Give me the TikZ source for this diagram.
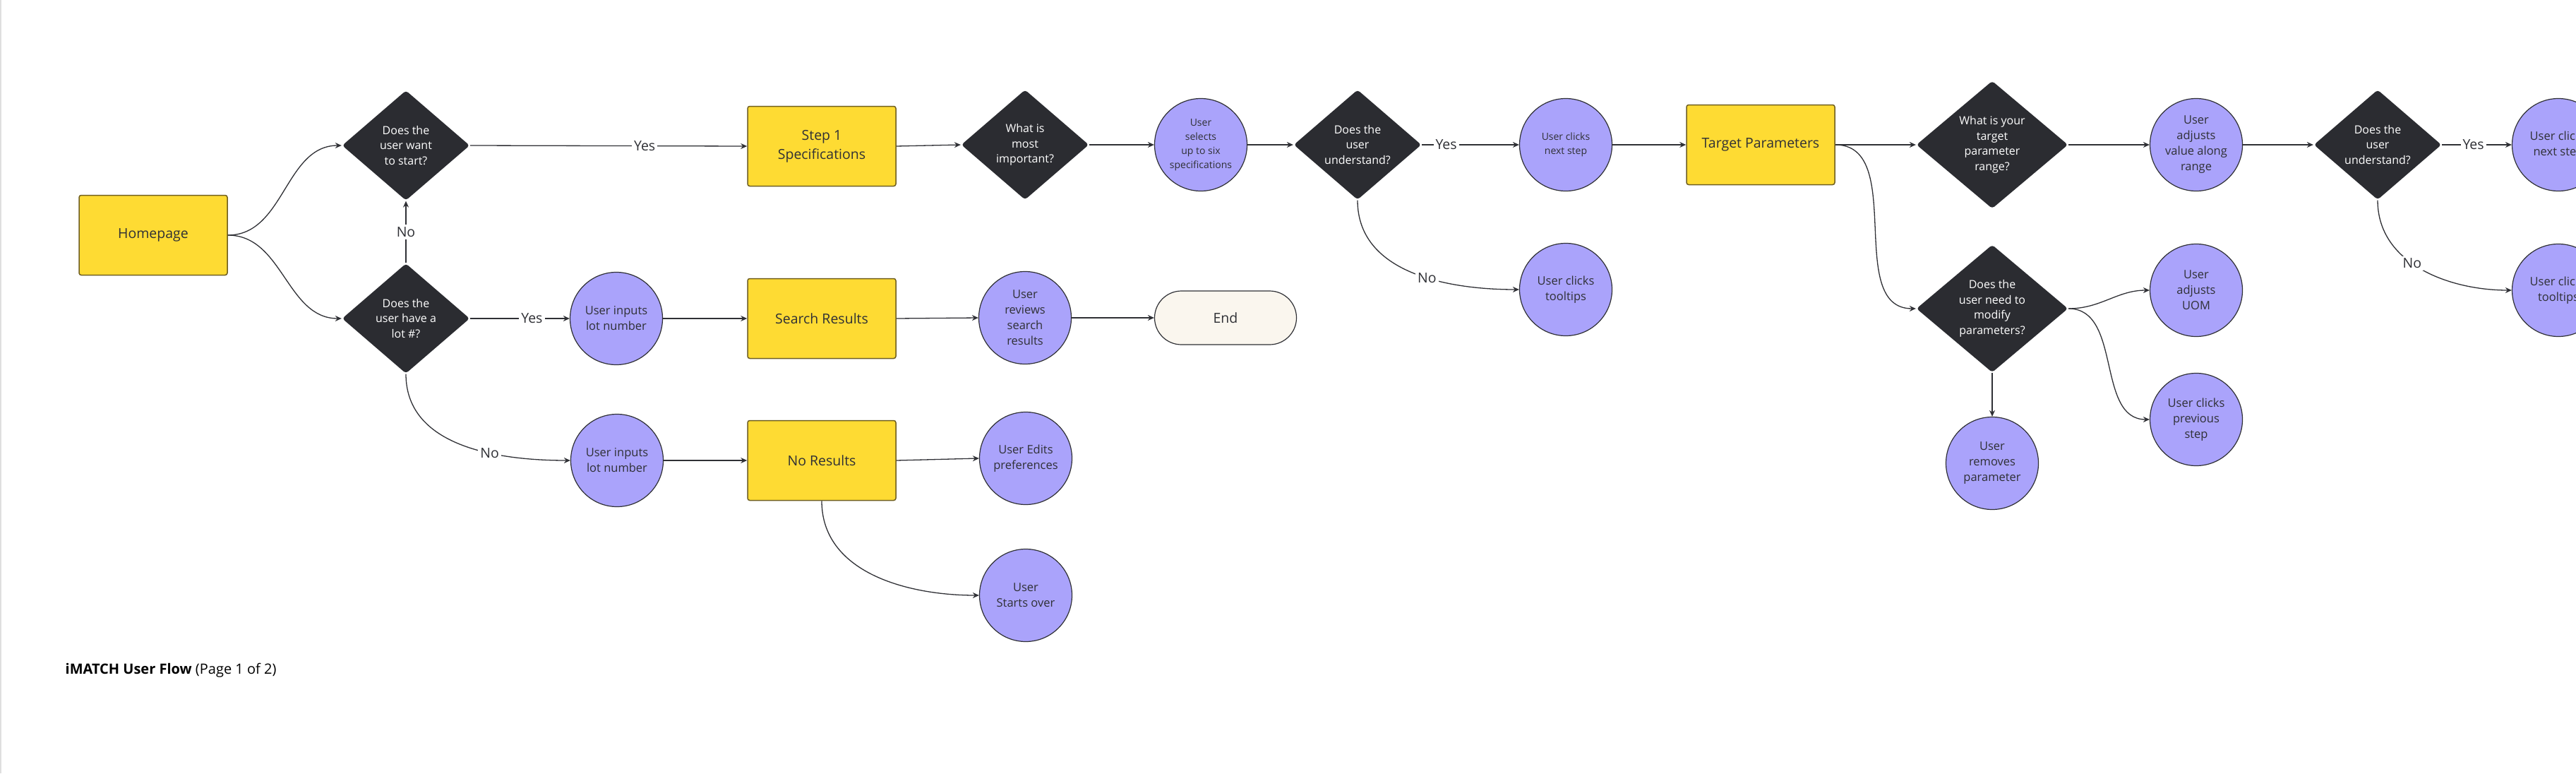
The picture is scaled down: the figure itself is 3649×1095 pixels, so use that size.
\documentclass[tikz,border=0pt]{standalone}
\usepackage{fontspec}
\setmainfont{Open Sans}
\usetikzlibrary{arrows.meta,shapes.geometric}
\definecolor{notey}{HTML}{FEDB33}
\definecolor{noteline}{HTML}{6E5E20}
\definecolor{askdark}{HTML}{2B2C31}
\definecolor{actpurple}{HTML}{AAA3FB}
\definecolor{ink}{HTML}{2F3035}
\definecolor{endcream}{HTML}{FAF6EE}

\begin{document}
\begin{tikzpicture}[x=1pt,y=-1pt,line width=1.3pt,
  box/.style={rectangle,rounded corners=3pt,draw=noteline,line width=1.5pt,fill=notey,minimum width=210pt,minimum height=113pt,inner sep=0pt,align=center,text=ink,font=\fontsize{19.5}{27}\selectfont},
  ask/.style={diamond,rounded corners=4pt,fill=askdark,minimum width=181pt,minimum height=156pt,inner sep=0pt,align=center,text=white,font=\fontsize{16}{21.5}\selectfont},
  bigask/.style={ask,minimum width=215pt,minimum height=181pt},
  act/.style={circle,draw=ink,line width=1.2pt,fill=actpurple,minimum size=131pt,inner sep=0pt,align=center,text=ink,font=\fontsize{16.5}{22}\selectfont},
  smallact/.style={act,font=\fontsize{14}{20}\selectfont},
  stop/.style={rectangle,rounded corners=38pt,draw=ink,line width=1.2pt,fill=endcream,minimum width=201pt,minimum height=76pt,text=ink,font=\fontsize{19.5}{24}\selectfont},
  lbl/.style={fill=white,inner sep=3pt,text=ink,font=\fontsize{19.5}{24}\selectfont},
  flow/.style={draw=ink,line width=1.3pt,-{Stealth[length=9pt,width=8pt]}}]
\clip (0,0) rectangle (3649,1095);
\draw[gray!25,line width=1.5pt] (0.75,0) -- (0.75,1095);

% start
\node[box] (home) at (217,333) {Homepage};
\node[ask] (qstart) at (575,206) {Does the\\user want\\to start?};
\node[ask] (qlot) at (575,451) {Does the\\user have a\\lot \#?};

% lot number branch
\node[act] (inputa) at (873,451) {User inputs\\lot number};
\node[act] (inputb) at (874,652) {User inputs\\lot number};
\node[box] (search) at (1164,451) {Search Results};
\node[box] (noresult) at (1164,652) {No Results};
\node[act] (review) at (1452,450) {User\\reviews\\search\\results};
\node[act] (edits) at (1453,649) {User Edits\\preferences};
\node[act] (over) at (1453,843) {User\\Starts over};
\node[stop] (finish) at (1736,450) {End};

% specifications
\node[box] (step1) at (1164,207) {Step 1\\Specifications};
\node[ask] (qimport) at (1452,205) {What is\\most\\important?};
\node[smallact] (selects) at (1701,205) {User\\selects\\up to six\\specifications};
\node[ask] (qunder) at (1923,205) {Does the\\user\\understand?};
\node[smallact] (next) at (2218,205) {User clicks\\next step};
\node[act] (tips) at (2218,410) {User clicks\\tooltips};

% target parameters
\node[box] (target) at (2494,205) {Target Parameters};
\node[bigask] (qrange) at (2822,205) {What is your\\target\\parameter\\range?};
\node[bigask] (qmodify) at (2822,437) {Does the\\user need to\\modify\\parameters?};
\node[act] (range) at (3111,205) {User\\adjusts\\value along\\range};
\node[act] (uom) at (3111,411) {User\\adjusts\\UOM};
\node[act] (prev) at (3111,594) {User clicks\\previous\\step};
\node[act] (remove) at (2822,656) {User\\removes\\parameter};
\node[ask] (qunderb) at (3368,205) {Does the\\user\\understand?};
\node[act] (nextb) at (3624,205) {User clicks\\next step};
\node[act] (tipsb) at (3624,411) {User clicks\\tooltips};

\node[anchor=west,inner sep=0pt,text=black,font=\fontsize{20}{24}\selectfont] (title) at (92,949) {\textbf{iMATCH User Flow} (Page 1 of 2)};

% connectors
\draw[flow] (home.east) to[out=0,in=180] (qstart.west);
\draw[flow] (home.east) to[out=0,in=180] (qlot.west);
\draw[flow] (qlot.north) -- node[lbl]{No} (qstart.south);
\draw[flow] (qstart.east) -- node[lbl,pos=.63]{Yes} (step1.west);
\draw[flow] (qlot.east) -- node[lbl,pos=.62]{Yes} (inputa.west);
\draw[flow] (qlot.south) to[out=-90,in=180] node[lbl,pos=.64]{No} (inputb.west);
\draw[flow] (inputa.east) -- (search.west);
\draw[flow] (inputb.east) -- (noresult.west);
\draw[flow] (search.east) -- (review.west);
\draw[flow] (review.east) -- (finish.west);
\draw[flow] (noresult.east) -- (edits.west);
\draw[flow] (noresult.south) to[out=-90,in=180] (over.west);
\draw[flow] (step1.east) -- (qimport.west);
\draw[flow] (qimport.east) -- (selects.west);
\draw[flow] (selects.east) -- (qunder.west);
\draw[flow] (qunder.east) -- node[lbl,pos=.25]{Yes} (next.west);
\draw[flow] (qunder.south) to[out=-90,in=180] node[lbl,pos=.58]{No} (tips.west);
\draw[flow] (next.east) -- (target.west);
\draw[flow] (target.east) -- (qrange.west);
\draw[flow] (target.east) to[out=0,in=180] (qmodify.west);
\draw[flow] (qrange.east) -- (range.west);
\draw[flow] (qmodify.east) to[out=0,in=180] (uom.west);
\draw[flow] (qmodify.east) to[out=0,in=180] (prev.west);
\draw[flow] (qmodify.south) -- (remove.north);
\draw[flow] (range.east) -- (qunderb.west);
\draw[flow] (qunderb.east) -- node[lbl,pos=.45]{Yes} (nextb.west);
\draw[flow] (qunderb.south) to[out=-90,in=180] node[lbl,pos=.44]{No} (tipsb.west);
\end{tikzpicture}
\end{document}
